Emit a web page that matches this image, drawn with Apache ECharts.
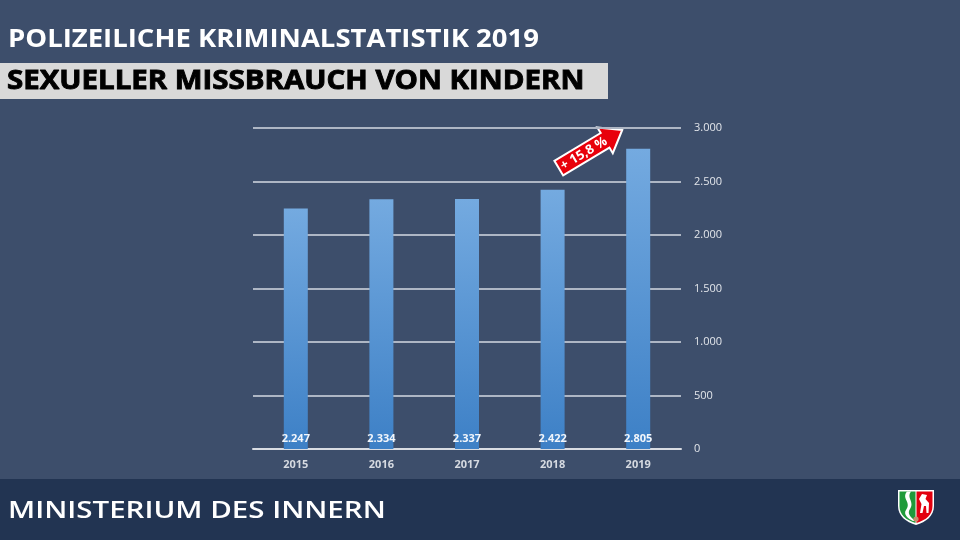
<!DOCTYPE html>
<html><head><meta charset="utf-8">
<script src="https://cdn.jsdelivr.net/npm/echarts@6/dist/echarts.min.js"></script>
<style>html,body{margin:0;padding:0;background:#3d4e6b;}#c{width:960px;height:540px;}</style>
</head><body><div id="c"></div>
<script>
const categories = ['2015','2016','2017','2018','2019'];
const values = [2247, 2334, 2337, 2422, 2805];
const yTicks = [0, 500, 1000, 1500, 2000, 2500, 3000];
const changeLabel = '+ 15,8 %';
const title1 = 'POLIZEILICHE KRIMINALSTATISTIK 2019';
const title2 = 'SEXUELLER MISSBRAUCH VON KINDERN';
const footerText = 'MINISTERIUM DES INNERN';

const fmt = v => v.toString().replace(/\B(?=(\d{3})+(?!\d))/g, '.');
const chart = echarts.init(document.getElementById('c'));
const FONT = '"Open Sans", "Noto Sans", sans-serif';

const logoSvg = '<svg xmlns="http://www.w3.org/2000/svg" width="36" height="36" viewBox="0 0 36 36">' +
  '<path d="M0,0 L36,0 L36,16 C36,26 28,32 18,35 C8,32 0,26 0,16 Z" fill="#ffffff"/>' +
  '<path d="M1.5,1.5 L17.5,1.5 L17.5,33 C8,30 1.5,25 1.5,16 Z" fill="#1f9a3a"/>' +
  '<path d="M18.5,1.5 L34.5,1.5 L34.5,16 C34.5,25 28,30 18.5,33 Z" fill="#e3000f"/>' +
  '<path d="M9,1.5 C3,9 14,12 8,20 C5,24 10,29 15,31 L17.5,31 C12,27 9,23 12,19 C17,12 8,8 13,1.5 Z" fill="#ffffff"/>' +
  '<path d="M22,23 L23.5,14 L21,9 L24,4 L29,5 L27.5,9 L31,13 L30.5,23 L28.5,23 L28,16 L26,16 L24.5,23 Z" fill="#ffffff"/>' +
  '<circle cx="18" cy="29" r="2.6" fill="#c98c6c"/></svg>';
const logoUrl = 'data:image/svg+xml;charset=utf-8,' + encodeURIComponent(logoSvg);

const baseGraphic = [
  {type: 'rect', x: 0, y: 479, shape: {width: 960, height: 61}, style: {fill: '#223452'}},
  {type: 'text', x: 8, y: 27, scaleX: 1.1, style: {text: title1, fill: '#ffffff', font: 'bold 25px ' + FONT}},
  {type: 'rect', x: 0, y: 63, shape: {width: 608, height: 36}, style: {fill: '#d9d9d9'}},
  {type: 'text', x: 7, y: 68, scaleX: 1.09, style: {text: title2, fill: '#000000', stroke: '#000000', lineWidth: 0.9, font: 'bold 27px ' + FONT}},
  {type: 'text', x: 8, y: 499, scaleX: 1.255, style: {text: footerText, fill: '#ffffff', font: '600 23.5px ' + FONT}},
  {type: 'image', x: 898, y: 490, style: {image: logoUrl, width: 36, height: 36}}
];

const option = {
  backgroundColor: '#3d4e6b',
  animation: false,
  grid: {left: 253, right: 279, top: 128, bottom: 91},
  xAxis: {
    type: 'category', data: categories,
    axisLine: {show: true, lineStyle: {color: '#d9dce2', width: 2}},
    axisTick: {show: false},
    axisLabel: {color: '#d6dae1', fontSize: 11, fontWeight: 'bold', fontFamily: FONT, margin: 10}
  },
  yAxis: {
    type: 'value', position: 'right', min: yTicks[0], max: yTicks[yTicks.length-1], interval: 500,
    axisLine: {show: false}, axisTick: {show: false},
    splitLine: {lineStyle: {color: '#aeb6c4', width: 2}},
    axisLabel: {color: '#e3e6eb', fontSize: 11, fontFamily: FONT, margin: 13, formatter: v => fmt(v)}
  },
  series: [{
    type: 'bar', data: values, barWidth: 24, z: 3,
    itemStyle: {color: new echarts.graphic.LinearGradient(0,0,0,1,[{offset:0,color:'#74aae0'},{offset:1,color:'#3d80c6'}])},
    label: {show: true, position: 'insideBottom', distance: 5, color: '#f2f6fb', fontSize: 11, fontWeight: 'bold', fontFamily: FONT, formatter: p => fmt(p.value)}
  }],
  graphic: baseGraphic
};
chart.setOption(option);

// Arrow anchored to the 2019 bar and the top tick
const tip = chart.convertToPixel({gridIndex: 0}, ['2019', 3000]);
const ang = 31 * Math.PI / 180;
const tx = tip[0] - 16, ty = tip[1] + 2;
const arrowPts = [[0,0],[-20,-15],[-20,-8.5],[-74,-8.5],[-74,8.5],[-20,8.5],[-20,15]];
chart.setOption({graphic: baseGraphic.concat([
  {type: 'group', x: tx, y: ty, rotation: ang, z: 10, children: [
    {type: 'polygon', shape: {points: arrowPts}, style: {fill: '#e8000b', stroke: '#ffffff', lineWidth: 2}},
    {type: 'text', x: -45, y: 0.5, style: {text: changeLabel, fill: '#ffffff', font: 'bold 13px ' + FONT, align: 'center', verticalAlign: 'middle'}}
  ]}
])});
</script></body></html>
